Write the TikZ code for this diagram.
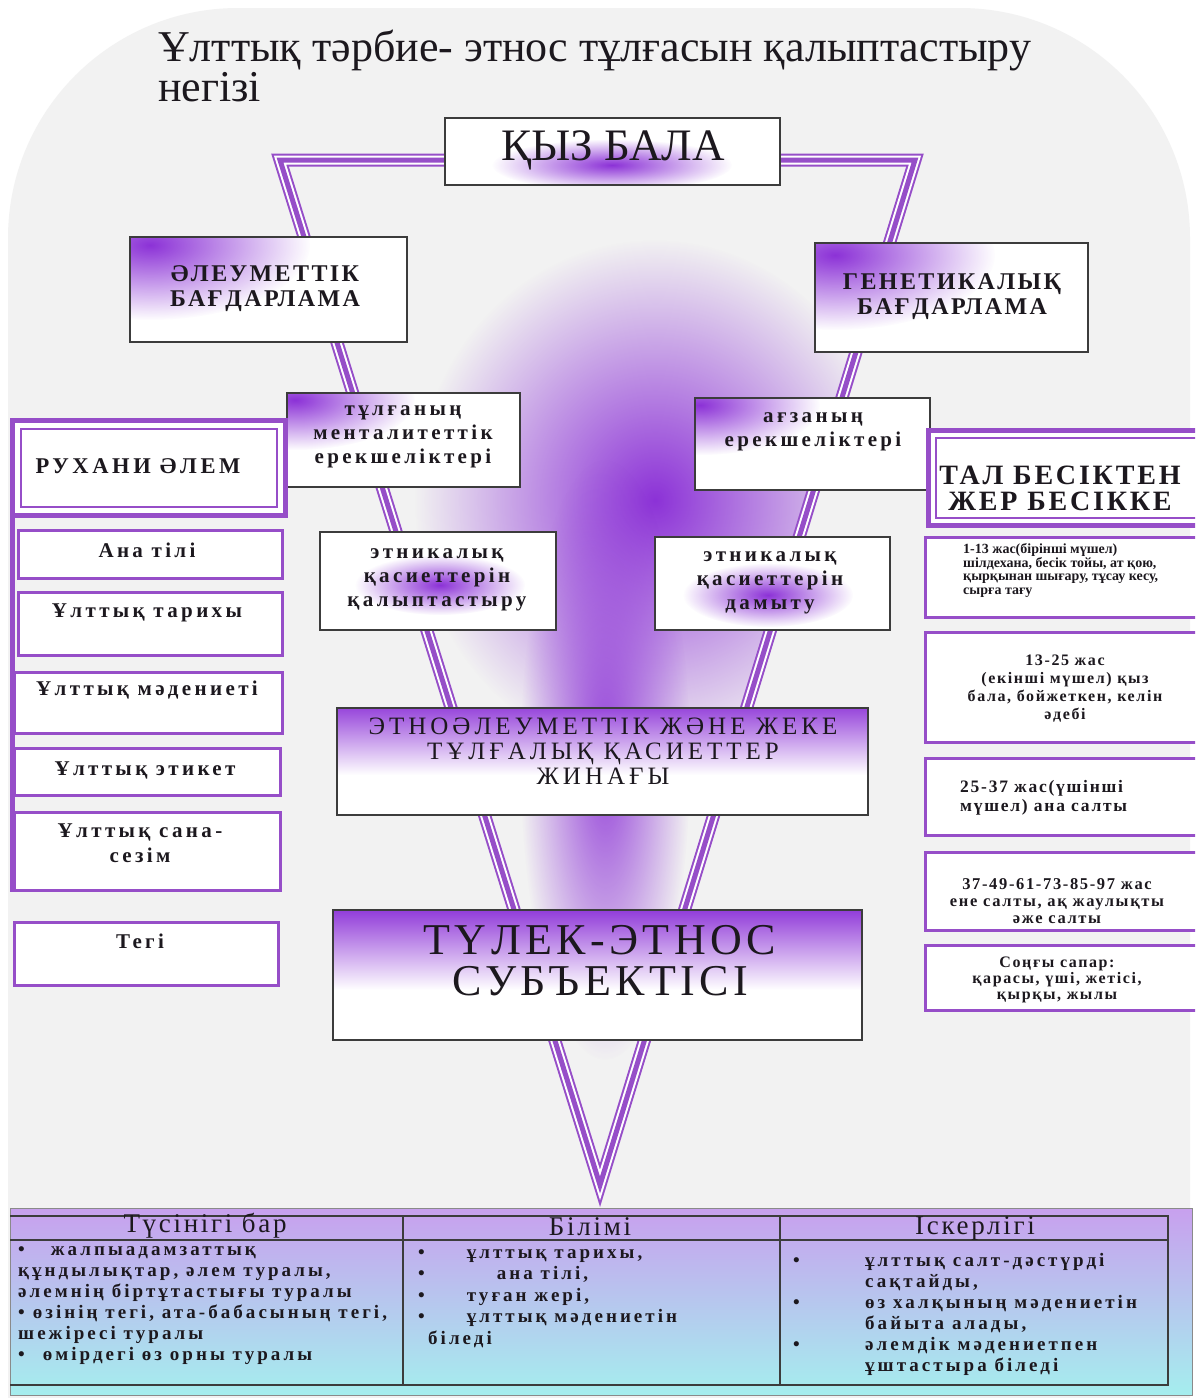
\documentclass[tikz,border=0pt]{standalone}
\usepackage{fontspec}
\setmainfont{Liberation Serif}
\newfontfamily\spA[LetterSpace=4]{Liberation Serif}
\newfontfamily\spB[LetterSpace=10]{Liberation Serif}
\newfontfamily\spC[LetterSpace=16]{Liberation Serif}
\usetikzlibrary{fadings}
\definecolor{bg}{RGB}{242,242,242}
\definecolor{stripe}{RGB}{150,78,200}
\definecolor{glow}{RGB}{140,50,215}
\definecolor{txt}{RGB}{28,24,30}
\definecolor{tabtop}{RGB}{200,160,238}
\definecolor{tabbot}{RGB}{165,238,238}
\definecolor{bord}{RGB}{60,60,60}
\tikzfading[name=softglow, inner color=transparent!0, outer color=transparent!100]
\newcommand\fs[2]{\fontsize{#1}{#2}\selectfont}
\tikzset{
  lbl/.style={inner sep=0pt, align=center, text=txt},
  plainbox/.style={draw=bord, line width=1.2pt, fill=white},
  listbox/.style={draw=stripe, line width=3pt, fill=white},
  glowfill/.style={fill=glow, path fading=softglow},
  smallbox/.style={lbl, font={\spC\bfseries\fs{21}{24}}},
  leftitem/.style={lbl, font={\spC\bfseries\fs{21}{25}}},
  tabtext/.style={lbl, align=left, anchor=north west, font={\spC\bfseries\fs{19}{21}}},
  tabhead/.style={lbl, font={\spB\fs{27}{27}}},
}
\begin{document}
\begin{tikzpicture}[x=1pt,y=-1pt]
\path[use as bounding box] (0,0) rectangle (1195,1398);
\clip (0,0) rectangle (1195,1398);
\fill[white] (0,0) rectangle (1195,1398);
\fill[bg, rounded corners=230pt] (8,8) rectangle (1190,1750);

% title
\node[lbl, align=left, anchor=north west, font={\fs{44}{29}}] (title) at (158,30)
  {Ұлттық тәрбие- этнос тұлғасын қалыптастыру\\негізі};

% glow inside triangle
\begin{scope}
  \clip (280,160) -- (915,160) -- (600,1185) -- cycle;
  \fill[glowfill] (655,500) ellipse [x radius=240, y radius=260];
  \fill[glowfill, opacity=.9] (605,760) ellipse [x radius=85, y radius=300];
\end{scope}

% triangle stripes
\draw[line width=13pt, stripe, line join=miter] (280,160) -- (915,160) -- (600,1185) -- cycle;
\draw[line width=9pt, white, line join=miter] (280,160) -- (915,160) -- (600,1185) -- cycle;
\draw[line width=5pt, stripe, line join=miter] (280,160) -- (915,160) -- (600,1185) -- cycle;

% ҚЫЗ БАЛА
\filldraw[plainbox] (445,118) rectangle (780,185);
\begin{scope}\clip (445,118) rectangle (780,185);
  \fill[glowfill] (612,165) ellipse [x radius=120, y radius=26];
\end{scope}
\draw[bord, line width=1.2pt] (445,118) rectangle (780,185);
\node[lbl, font={\fs{45}{45}}] (kyz) at (613,150) {ҚЫЗ БАЛА};

% ӘЛЕУМЕТТІК
\filldraw[plainbox] (130,237) rectangle (407,342);
\begin{scope}\clip (130,237) rectangle (407,342);
  \fill[glowfill] (150,245) ellipse [x radius=160, y radius=75];
\end{scope}
\draw[bord, line width=1.2pt] (130,237) rectangle (407,342);
\node[lbl, font={\spB\bfseries\fs{24}{25}}] (aleum) at (265,289) {ӘЛЕУМЕТТІК\\БАҒДАРЛАМА};

% ГЕНЕТИКАЛЫҚ
\filldraw[plainbox] (815,243) rectangle (1088,352);
\begin{scope}\clip (815,243) rectangle (1088,352);
  \fill[glowfill] (835,255) ellipse [x radius=160, y radius=75];
\end{scope}
\draw[bord, line width=1.2pt] (815,243) rectangle (1088,352);
\node[lbl, font={\spB\bfseries\fs{24}{25}}] (genet) at (952,297) {ГЕНЕТИКАЛЫҚ\\БАҒДАРЛАМА};

% тұлғаның
\filldraw[plainbox] (287,393) rectangle (520,487);
\begin{scope}\clip (287,393) rectangle (520,487);
  \fill[glowfill] (295,400) ellipse [x radius=120, y radius=50];
\end{scope}
\draw[bord, line width=1.2pt] (287,393) rectangle (520,487);
\node[smallbox] (tulga) at (403,437) {тұлғаның\\менталитеттік\\ерекшеліктері};

% ағзаның
\filldraw[plainbox] (695,398) rectangle (930,490);
\begin{scope}\clip (695,398) rectangle (930,490);
  \fill[glowfill] (700,405) ellipse [x radius=120, y radius=50];
\end{scope}
\draw[bord, line width=1.2pt] (695,398) rectangle (930,490);
\node[smallbox] (agza) at (813,432) {ағзаның\\ерекшеліктері};

% этникалық қалыптастыру
\filldraw[plainbox] (320,532) rectangle (556,630);
\begin{scope}\clip (320,532) rectangle (556,630);
  \fill[glowfill] (440,585) ellipse [x radius=85, y radius=30];
\end{scope}
\draw[bord, line width=1.2pt] (320,532) rectangle (556,630);
\node[smallbox] (etn1) at (437,580) {этникалық\\қасиеттерін\\қалыптастыру};

% этникалық дамыту
\filldraw[plainbox] (655,537) rectangle (890,630);
\begin{scope}\clip (655,537) rectangle (890,630);
  \fill[glowfill] (768,595) ellipse [x radius=85, y radius=32];
\end{scope}
\draw[bord, line width=1.2pt] (655,537) rectangle (890,630);
\node[smallbox] (etn2) at (770,583) {этникалық\\қасиеттерін\\дамыту};

% РУХАНИ ӘЛЕМ
\fill[white] (12,420) rectangle (285,515);
\draw[stripe, line width=5pt] (12,420) rectangle (285,515);
\draw[stripe, line width=1.5pt] (21,429) rectangle (277,507);
\node[lbl, font={\spC\bfseries\fs{22.5}{24}}] (ruhani) at (138,466) {РУХАНИ ӘЛЕМ};

% left list
\draw[stripe, line width=5pt] (12,515) -- (12,892);
\filldraw[listbox] (18,530) rectangle (282,578);
\node[leftitem] (ana) at (147,550) {Ана тілі};
\filldraw[listbox] (18,592) rectangle (282,655);
\node[leftitem] (tarih) at (147,613) {Ұлттық тарихы};
\filldraw[listbox] (14,672) rectangle (282,733);
\node[leftitem] (maden) at (147,690) {Ұлттық мәдениеті};
\filldraw[listbox] (14,748) rectangle (280,795);
\node[leftitem] (etiket) at (145,770) {Ұлттық этикет};
\filldraw[listbox] (14,812) rectangle (280,890);
\node[leftitem] (sana) at (140,843) {Ұлттық сана-\\сезім};
\filldraw[listbox] (14,922) rectangle (278,985);
\node[leftitem] (tegi) at (140,941) {Тегі};

% right column
\fill[white] (928,430) rectangle (1200,525);
\draw[stripe, line width=5pt] (928,430) rectangle (1200,525);
\draw[stripe, line width=1.5pt] (936,438) rectangle (1200,518);
\node[lbl, font={\spB\bfseries\fs{28}{26}}] (tal) at (1060,488) {ТАЛ БЕСІКТЕН\\ЖЕР БЕСІККЕ};

\filldraw[listbox] (925,537) rectangle (1200,617);
\node[lbl, align=left, anchor=north west, font={\bfseries\fs{14}{13.8}}] (r1) at (963,543)
  {1-13 жас(бірінші мүшел)\\шілдехана, бесік тойы, ат қою,\\қырқынан шығару, тұсау кесу,\\сырға тағу};
\filldraw[listbox] (925,632) rectangle (1200,742);
\node[lbl, font={\spB\bfseries\fs{16}{18}}] (r2) at (1065,689) {13-25 жас\\(екінші мүшел) қыз\\бала, бойжеткен, келін\\әдебі};
\filldraw[listbox] (925,758) rectangle (1200,835);
\node[lbl, align=left, anchor=west, font={\spB\bfseries\fs{17.5}{19}}] (r3) at (960,798) {25-37 жас(үшінші\\мүшел) ана салты};
\filldraw[listbox] (925,852) rectangle (1200,930);
\node[lbl, font={\spB\bfseries\fs{16.5}{17}}] (r4) at (1057,901) {37-49-61-73-85-97 жас\\ене салты, ақ жаулықты\\әже салты};
\filldraw[listbox] (925,945) rectangle (1200,1010);
\node[lbl, font={\spB\bfseries\fs{16}{16}}] (r5) at (1057,980) {Соңғы сапар:\\қарасы, үші, жетісі,\\қырқы, жылы};

% center boxes
\fill[white] (337,708) rectangle (868,815);
\shade[top color=glow!90, bottom color=white] (337,708) rectangle (868,775);
\draw[bord, line width=1.2pt] (337,708) rectangle (868,815);
\node[lbl, font={\spC\fs{25}{25}}] (jinak) at (603,751) {ЭТНОӘЛЕУМЕТТІК ЖӘНЕ ЖЕКЕ\\ТҰЛҒАЛЫҚ ҚАСИЕТТЕР\\ЖИНАҒЫ};

\fill[white] (333,910) rectangle (862,1040);
\shade[top color=glow!95, bottom color=white] (333,910) rectangle (862,990);
\draw[bord, line width=1.2pt] (333,910) rectangle (862,1040);
\node[lbl, font={\spB\fs{44}{40}}] (tulek1) at (600,940) {ТҮЛЕК-ЭТНОС};
\node[lbl, font={\spB\fs{44}{40}}] (tulek2) at (600,981) {СУБЪЕКТІСІ};

% bottom table
\shade[top color=tabtop, bottom color=tabbot] (10,1208) rectangle (1192,1395);
\draw[bord!60, line width=1pt] (10,1208) rectangle (1192,1395);
\draw[bord, line width=1.2pt] (10,1216) -- (1168,1216) -- (1168,1385) -- (10,1385);
\draw[bord, line width=1.2pt] (10,1240) -- (1168,1240);
\draw[bord, line width=1.2pt] (403,1216) -- (403,1385);
\draw[bord, line width=1.2pt] (780,1216) -- (780,1385);

\node[tabhead] (h1) at (205,1226) {Түсінігі бар};
\node[tabhead] (h2) at (590,1227) {Білімі};
\node[tabhead] (h3) at (975,1228) {Іскерлігі};

\node[tabtext] (c1) at (18,1246)
  {•\hspace{26pt}жалпыадамзаттық\\құндылықтар, әлем туралы,\\әлемнің біртұтастығы туралы\\•\hspace{8pt}өзінің тегі, ата-бабасының тегі,\\шежіресі туралы\\•\hspace{18pt}өмірдегі өз орны туралы};
\node[tabtext, font={\spC\bfseries\fs{19}{21.5}}] (c2) at (418,1249)
  {•\hspace{42pt}ұлттық тарихы,\\•\hspace{72pt}ана тілі,\\•\hspace{42pt}туған жері,\\•\hspace{42pt}ұлттық мәдениетін\\\hspace*{10pt}біледі};
\node[tabtext] (c3) at (793,1253)
  {\makebox[72pt][l]{•}ұлттық салт-дәстүрді\\\hspace*{72pt}сақтайды,\\\makebox[72pt][l]{•}өз халқының мәдениетін\\\hspace*{72pt}байыта алады,\\\makebox[72pt][l]{•}әлемдік мәдениетпен\\\hspace*{72pt}ұштастыра біледі};
\end{tikzpicture}
\end{document}
